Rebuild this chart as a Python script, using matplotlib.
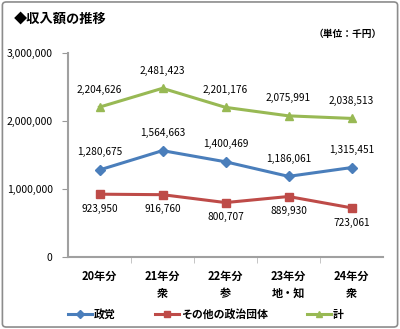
import matplotlib
matplotlib.use("Agg")
import matplotlib.pyplot as plt
from matplotlib.patches import FancyBboxPatch
from matplotlib.ticker import FuncFormatter, FixedLocator

plt.rcParams['font.family'] = ['Noto Sans CJK JP', 'DejaVu Sans']

categories = ["20年分", "21年分\n衆", "22年分\n参", "23年分\n地・知", "24年分\n衆"]
seito = [1280675, 1564663, 1400469, 1186061, 1315451]
sonota = [923950, 916760, 800707, 889930, 723061]
total = [2204626, 2481423, 2201176, 2075991, 2038513]
series_names = ["政党", "その他の政治団体", "計"]

fig = plt.figure(figsize=(4.0, 3.29), dpi=100)
fig.patch.set_facecolor("white")
frame = FancyBboxPatch((0.006, 0.006), 0.988, 0.988, boxstyle="round,pad=0,rounding_size=0.01",
                       transform=fig.transFigure, facecolor="none", edgecolor="#8c8c8c", linewidth=1.2)
fig.patches.append(frame)

ax = fig.add_axes([0.17, 0.2188, 0.7875, 0.62])
x = list(range(len(categories)))

l1, = ax.plot(x, seito, color="#4a7ebb", marker="D", markersize=5, linewidth=2.2, label=series_names[0])
l2, = ax.plot(x, sonota, color="#be4b48", marker="s", markersize=6, linewidth=2.2, label=series_names[1])
l3, = ax.plot(x, total, color="#98b954", marker="^", markersize=6, linewidth=2.2, label=series_names[2])

fmt = lambda v: f"{v:,}"
for xi, v in zip(x, seito):
    ax.annotate(fmt(v), (xi, v), xytext=(0, 9), textcoords="offset points", ha="center", va="bottom", fontsize=7.3)
for xi, v in zip(x, total):
    ax.annotate(fmt(v), (xi, v), xytext=(0, 9), textcoords="offset points", ha="center", va="bottom", fontsize=7.3)
for xi, v in zip(x, sonota):
    ax.annotate(fmt(v), (xi, v), xytext=(0, -7), textcoords="offset points", ha="center", va="top", fontsize=7.3)

ax.set_xlim(-0.5, len(categories) - 0.5)
ax.set_ylim(0, 3000000)
ax.set_yticks([0, 1000000, 2000000, 3000000])
ax.yaxis.set_major_formatter(FuncFormatter(lambda v, p: f"{int(v):,}"))
ax.set_xticks(x)
ax.set_xticklabels(categories, fontsize=8, fontweight="bold", linespacing=1.45)
ax.xaxis.set_minor_locator(FixedLocator([i + 0.5 for i in range(len(categories) - 1)]))
ax.tick_params(axis="x", which="major", length=0, pad=9)
ax.tick_params(axis="x", which="minor", length=4, direction="out", color="#bbbbbb")
ax.tick_params(axis="y", length=4, direction="out", color="#999999", labelsize=7.5, pad=7)

for side in ["top", "right"]:
    ax.spines[side].set_visible(False)
ax.spines["left"].set_color("#a0a0a0")
ax.spines["left"].set_linewidth(1.5)
ax.spines["bottom"].set_color("#a0a0a0")
ax.spines["bottom"].set_linewidth(1.5)

fig.text(0.035, 0.945, "◆収入額の推移", fontsize=9.5, fontweight="bold", ha="left", va="center")
fig.text(0.955, 0.898, "（単位：千円）", fontsize=7, fontweight="bold", ha="right", va="center")

fig.legend(handles=[l1, l2, l3], loc="center", bbox_to_anchor=(0.515, 0.045), ncol=3,
           frameon=False, handlelength=2.2, columnspacing=3.6, handletextpad=0.2,
           markerscale=0.8, prop={"weight": "bold", "size": 7.8})

fig.savefig("out.png", dpi=100)
